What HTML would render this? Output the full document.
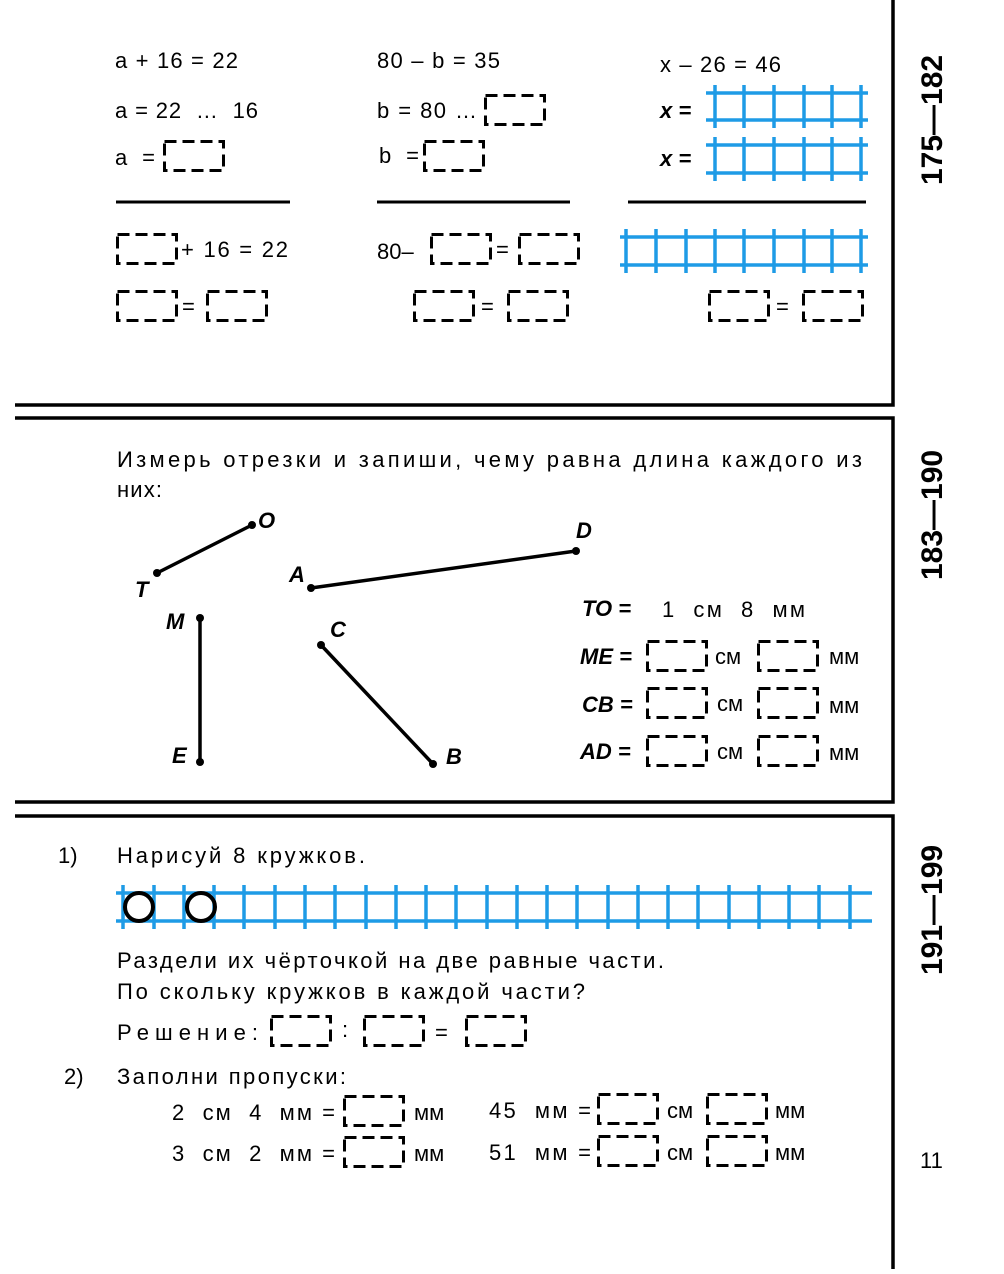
<!DOCTYPE html>
<html><head><meta charset="utf-8"><style>
body{margin:0;background:#fff}
svg text{font-family:"Liberation Sans","DejaVu Sans",sans-serif;fill:#000;white-space:pre}
.t{font-size:22px}
.i{font-style:italic;font-weight:bold;font-size:22px}
.r{font-weight:bold;font-size:30px}
</style></head><body>
<svg width="1004" height="1269" viewBox="0 0 1004 1269" xmlns="http://www.w3.org/2000/svg">
<defs>
<g id="bx"><rect x="1.5" y="1.5" width="59" height="29" fill="none" stroke="#000" stroke-width="3" stroke-dasharray="12 6"/></g>
</defs>
<g stroke="#000" stroke-width="3.5" fill="none">
<path d="M893 0V405H15"/>
<path d="M15 418H893V802H15"/>
<path d="M15 816H893V1269"/>
</g>
<text class="r" transform="translate(942,120) rotate(-90)" text-anchor="middle">175—182</text>
<text class="r" transform="translate(942,515) rotate(-90)" text-anchor="middle">183—190</text>
<text class="r" transform="translate(942,910) rotate(-90)" text-anchor="middle">191—199</text>
<text class="t" x="920" y="1168">11</text>

<text class="t" x="115" y="68" textLength="123" lengthAdjust="spacing">a + 16 = 22</text>
<text class="t" x="115" y="118" textLength="143" lengthAdjust="spacing">a = 22  …  16</text>
<text class="t" x="115" y="165" textLength="40" lengthAdjust="spacing">a =</text>
<use href="#bx" x="163" y="140"/>
<text class="t" x="377" y="68" textLength="123" lengthAdjust="spacing">80 – b = 35</text>
<text class="t" x="377" y="118" textLength="100" lengthAdjust="spacing">b = 80 …</text>
<use href="#bx" x="484" y="94"/>
<text class="t" x="379" y="163" textLength="40" lengthAdjust="spacing">b =</text>
<use href="#bx" x="423" y="140"/>
<text class="t" x="660" y="72" textLength="121" lengthAdjust="spacing">x – 26 = 46</text>
<text class="i" x="660" y="118">x =</text>
<text class="i" x="660" y="166">x =</text>
<g stroke="#1e9be6" stroke-width="3.5">
<path d="M706 93H868M706 120H868M706 145H868M706 173H868"/>
<path d="M715 85V128M744 85V128M774 85V128M804 85V128M832 85V128M861 85V128"/>
<path d="M715 137V181M744 137V181M774 137V181M804 137V181M832 137V181M861 137V181"/>
<path d="M620 237H868M620 265H868"/>
<path d="M626 229V273M656 229V273M686 229V273M715 229V273M744 229V273M774 229V273M804 229V273M832 229V273M861 229V273"/>
</g>
<g stroke="#000" stroke-width="3"><path d="M116 202H290M377 202H570M628 202H866"/></g>
<use href="#bx" x="116" y="233"/>
<text class="t" x="181" y="257" textLength="107" lengthAdjust="spacing">+ 16 = 22</text>
<text class="t" x="377" y="259">80–</text>
<use href="#bx" x="430" y="233"/>
<text class="t" x="496" y="257">=</text>
<use href="#bx" x="518" y="233"/>
<use href="#bx" x="116" y="290"/>
<text class="t" x="182" y="314">=</text>
<use href="#bx" x="206" y="290"/>
<use href="#bx" x="413" y="290"/>
<text class="t" x="481" y="314">=</text>
<use href="#bx" x="507" y="290"/>
<use href="#bx" x="708" y="290"/>
<text class="t" x="776" y="314">=</text>
<use href="#bx" x="802" y="290"/>

<text class="t" x="117" y="467" textLength="745" lengthAdjust="spacing">Измерь отрезки и запиши, чему равна длина каждого из</text>
<text class="t" x="117" y="497" textLength="45" lengthAdjust="spacing">них:</text>
<g stroke="#000" stroke-width="3.5">
<path d="M157 573L252 525M311 588L576 551M200 618V762M321 645L433 764"/>
</g>
<g fill="#000">
<circle cx="157" cy="573" r="4"/><circle cx="252" cy="525" r="4"/><circle cx="311" cy="588" r="4"/><circle cx="576" cy="551" r="4"/>
<circle cx="200" cy="618" r="4"/><circle cx="200" cy="762" r="4"/><circle cx="321" cy="645" r="4"/><circle cx="433" cy="764" r="4"/>
</g>
<text class="i" x="258" y="528">O</text>
<text class="i" x="135" y="597">T</text>
<text class="i" x="576" y="538">D</text>
<text class="i" x="289" y="582">A</text>
<text class="i" x="166" y="629">M</text>
<text class="i" x="172" y="763">E</text>
<text class="i" x="330" y="637">C</text>
<text class="i" x="446" y="764">B</text>
<text class="i" x="582" y="616">TO =</text>
<text class="t" x="662" y="617" textLength="143" lengthAdjust="spacing">1  см  8  мм</text>
<text class="i" x="580" y="664">ME =</text>
<text class="i" x="582" y="712">CB =</text>
<text class="i" x="580" y="759">AD =</text>
<use href="#bx" x="646" y="640"/><use href="#bx" x="757" y="640"/>
<use href="#bx" x="646" y="687"/><use href="#bx" x="757" y="687"/>
<use href="#bx" x="646" y="735"/><use href="#bx" x="757" y="735"/>
<text class="t" x="715" y="664">см</text><text class="t" x="829" y="664">мм</text>
<text class="t" x="717" y="711">см</text><text class="t" x="829" y="713">мм</text>
<text class="t" x="717" y="759">см</text><text class="t" x="829" y="760">мм</text>

<text class="t" x="58" y="863">1)</text>
<text class="t" x="117" y="863" textLength="248" lengthAdjust="spacing">Нарисуй 8 кружков.</text>
<g stroke="#1e9be6" stroke-width="3.5">
<path d="M116 893H872M116 921H872"/>
<path d="M123 885V929M154 885V929M184 885V929M214 885V929M244 885V929M275 885V929M305 885V929M335 885V929M366 885V929M396 885V929M426 885V929M456 885V929M487 885V929M517 885V929M547 885V929M577 885V929M608 885V929M638 885V929M668 885V929M698 885V929M729 885V929M759 885V929M789 885V929M819 885V929M850 885V929"/>
</g>
<circle cx="139" cy="907" r="14" fill="none" stroke="#000" stroke-width="4"/>
<circle cx="201" cy="907" r="14" fill="none" stroke="#000" stroke-width="4"/>
<text class="t" x="117" y="968" textLength="547" lengthAdjust="spacing">Раздели их чёрточкой на две равные части.</text>
<text class="t" x="117" y="999" textLength="468" lengthAdjust="spacing">По скольку кружков в каждой части?</text>
<text class="t" x="117" y="1040" textLength="141" lengthAdjust="spacing">Решение:</text>
<use href="#bx" x="270" y="1015"/>
<text class="t" x="342" y="1037">:</text>
<use href="#bx" x="363" y="1015"/>
<text class="t" x="435" y="1040">=</text>
<use href="#bx" x="465" y="1015"/>
<text class="t" x="64" y="1084">2)</text>
<text class="t" x="117" y="1084" textLength="229" lengthAdjust="spacing">Заполни пропуски:</text>
<text class="t" x="172" y="1120" textLength="163" lengthAdjust="spacing">2  см  4  мм =</text>
<use href="#bx" x="343" y="1095"/>
<text class="t" x="414" y="1120">мм</text>
<text class="t" x="489" y="1118" textLength="102" lengthAdjust="spacing">45  мм =</text>
<use href="#bx" x="597" y="1093"/>
<text class="t" x="667" y="1118">см</text>
<use href="#bx" x="706" y="1093"/>
<text class="t" x="775" y="1118">мм</text>
<text class="t" x="172" y="1161" textLength="163" lengthAdjust="spacing">3  см  2  мм =</text>
<use href="#bx" x="343" y="1136"/>
<text class="t" x="414" y="1161">мм</text>
<text class="t" x="489" y="1160" textLength="102" lengthAdjust="spacing">51  мм =</text>
<use href="#bx" x="597" y="1135"/>
<text class="t" x="667" y="1160">см</text>
<use href="#bx" x="706" y="1135"/>
<text class="t" x="775" y="1160">мм</text>
</svg>
</body></html>
